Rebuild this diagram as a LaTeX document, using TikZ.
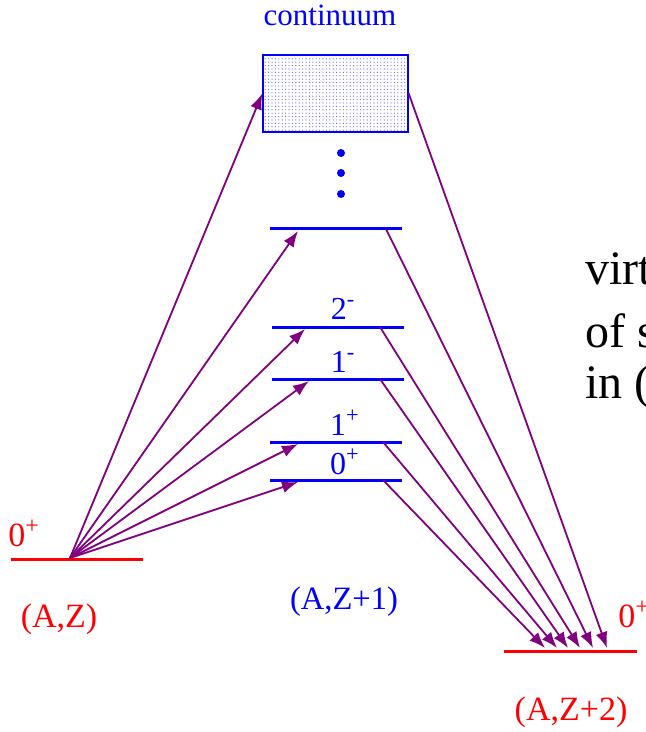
\documentclass[tikz,border=0pt]{standalone}
\usepackage{fontspec}
\setmainfont{Liberation Serif}
\usepackage{xcolor}
\usepackage{tikz}
\usetikzlibrary{arrows.meta, patterns.meta}
\definecolor{transcol}{RGB}{128,0,128}
\tikzdeclarepattern{name=finedots, type=uncolored, bottom left={(-.85pt,-.85pt)}, top right={(.85pt,.85pt)}, tile size={(1.7pt,1.7pt)}, code={\fill (0,0) circle (.28pt);}}
\tikzstyle{level} = [draw=blue, line width=1.5pt]
\tikzstyle{ground} = [draw=red, line width=1.5pt]
\tikzstyle{contbox} = [rectangle, draw=blue, line width=0.7pt, pattern=finedots, pattern color=blue!65, inner sep=0pt]
\tikzstyle{arrow} = [line width=0.9pt, -{Latex[length=8pt,width=6pt]}, draw=transcol, fill=transcol]
\tikzstyle{spin} = [blue, anchor=base, inner sep=0pt, font=\fontsize{16}{18}\selectfont]
\tikzstyle{nucl} = [anchor=base, inner sep=0pt, font=\fontsize{17}{19}\selectfont]
\tikzstyle{remark} = [anchor=base west, inner sep=0pt, font=\fontsize{24}{28}\selectfont]

\begin{document}
\begin{tikzpicture}[x=0.5pt, y=-0.5pt]
    \useasboundingbox (0,0) rectangle (646,732);

    % intermediate nucleus
    \node (cont) [contbox, minimum width=72.5pt, minimum height=38.5pt] at (335.5,93.5) {};
    \node (conttxt) [blue, anchor=base, inner sep=0pt, font=\fontsize{15.5}{18}\selectfont] at (330,26) {continuum};
    \fill[blue] (341,153) circle (2pt) (341,173) circle (2pt) (341,194) circle (2pt);

    \draw [level] (270,229) -- (402,229);
    \draw [level] (272,327) -- (404,327);
    \draw [level] (272,379) -- (404,379);
    \draw [level] (270,442) -- (402,442);
    \draw [level] (270,480) -- (402,480);

    \node (s2m) [spin] at (343,319) {2\textsuperscript{-}};
    \node (s1m) [spin] at (343,372) {1\textsuperscript{-}};
    \node (s1p) [spin] at (345,435) {1\textsuperscript{+}};
    \node (s0p) [spin] at (345,474) {0\textsuperscript{+}};
    \node (mid) [nucl, blue, font=\fontsize{16.3}{19}\selectfont] at (344,609) {(A,Z+1)};

    % ground states
    \draw [ground] (11,559) -- (143,559);
    \node (gl) [nucl, red, anchor=base west] at (8,546) {0\textsuperscript{+}};
    \node (left) [nucl, red] at (59,627) {(A,Z)};

    \draw [ground] (504,651) -- (637,651);
    \node (gr) [nucl, red, anchor=base west] at (618,627) {0\textsuperscript{+}};
    \node (right) [nucl, red] at (571,720) {(A,Z+2)};

    % end points on the levels
    \coordinate (src) at (70,558);
    \coordinate (inx) at (298,231);
    \coordinate (in2m) at (305,329);
    \coordinate (in1m) at (309,381);
    \coordinate (in1p) at (298,444);
    \coordinate (in0p) at (298,482);
    \coordinate (outx) at (386,229);
    \coordinate (out2m) at (380,327);
    \coordinate (out1m) at (380,379);
    \coordinate (out1p) at (383,442);
    \coordinate (out0p) at (383,480);
    \coordinate (dst0p) at (545,648);
    \coordinate (dst1p) at (557,648);
    \coordinate (dst1m) at (568,648);
    \coordinate (dst2m) at (580,648);
    \coordinate (dstx) at (593,648);
    \coordinate (dstc) at (607,648);

    \draw [arrow] (src) -- (cont.west);
    \draw [arrow] (src) -- (inx);
    \draw [arrow] (src) -- (in2m);
    \draw [arrow] (src) -- (in1m);
    \draw [arrow] (src) -- (in1p);
    \draw [arrow] (src) -- (in0p);

    \draw [arrow] (cont.east) -- (dstc);
    \draw [arrow] (outx) -- (dstx);
    \draw [arrow] (out2m) -- (dst2m);
    \draw [arrow] (out1m) -- (dst1m);
    \draw [arrow] (out1p) -- (dst1p);
    \draw [arrow] (out0p) -- (dst0p);

    % text cut by the page edge
    \node (ra) [remark] at (585,285) {virt};
    \node (rb) [remark] at (585,347) {of s};
    \node (rc) [remark] at (585,398) {in (};
\end{tikzpicture}
\end{document}
